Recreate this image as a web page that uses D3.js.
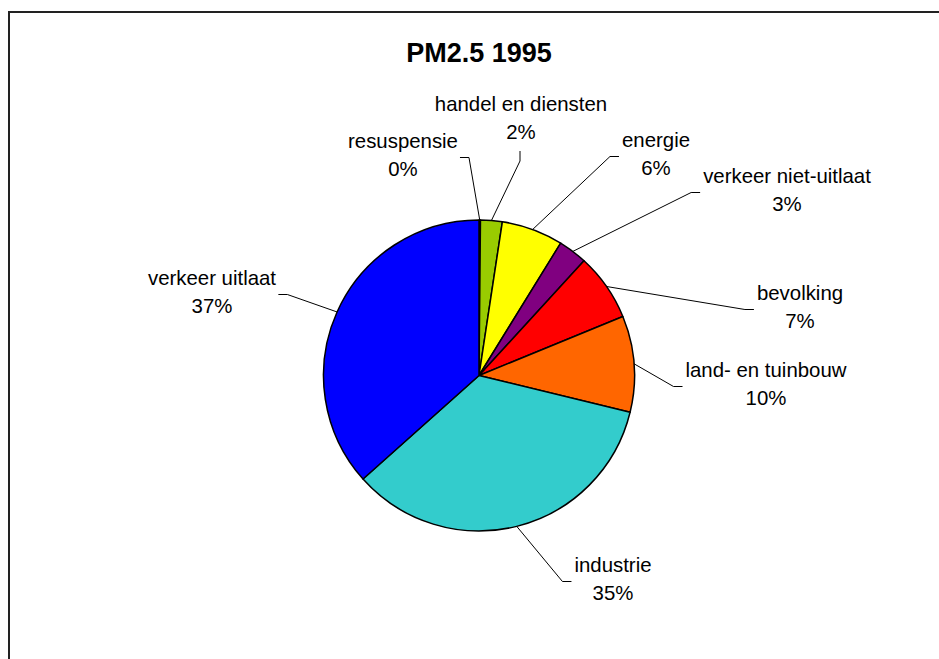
<!DOCTYPE html>
<html>
<head>
<meta charset="utf-8">
<script src="https://cdn.jsdelivr.net/npm/d3@7"></script>
<style>
    body { margin: 0; background: #fff; }
    svg { display: block; }
    text { font-family: "Liberation Sans", Arial, sans-serif; fill: #000; }
</style>
</head>
<body>
<div id="chart"></div>
<script>
// PM2.5 1995 - share per sector (percent)
var categories = ["resuspensie", "handel en diensten", "energie", "verkeer niet-uitlaat",
    "bevolking", "land- en tuinbouw", "industrie", "verkeer uitlaat"];
var values = [0.15, 2.25, 6.4, 3.0, 7.0, 10.0, 34.6, 36.6];
var colors = ["#9999FF", "#99CC00", "#FFFF00", "#800080", "#FF0000", "#FF6600", "#33CCCC", "#0000FF"];

// label placement (text centre x, first baseline y, side where the leader line attaches)
var labelLayout = [
    {x: 403, y: 148, side: "right"},
    {x: 521, y: 111, side: "bottom"},
    {x: 656, y: 147, side: "left"},
    {x: 787, y: 183, side: "left"},
    {x: 800, y: 300, side: "left"},
    {x: 766, y: 377, side: "left"},
    {x: 613, y: 572, side: "left"},
    {x: 212, y: 285, side: "right"}
];

(function () {
    var W = 939, H = 659;
    var cx = 479, cy = 375.5, r = 155.5;
    var lineGap = 28;

    var svg = d3.select("#chart").append("svg")
        .attr("width", W)
        .attr("height", H);

    // chart area frame (runs off the right and bottom edge)
    svg.append("rect")
        .attr("x", 9).attr("y", 12)
        .attr("width", W + 20).attr("height", H + 20)
        .attr("fill", "none")
        .attr("stroke", "#222")
        .attr("stroke-width", 2);

    svg.append("text")
        .attr("x", cx).attr("y", 62)
        .attr("text-anchor", "middle")
        .style("font-size", "27px")
        .style("font-weight", "bold")
        .text("PM2.5 1995");

    var total = d3.sum(values);
    var data = categories.map(function (c, i) {
        return {name: c, value: values[i], color: colors[i], layout: labelLayout[i]};
    });

    var pie = d3.pie().sort(null).value(function (d) { return d.value; });
    var arc = d3.arc().innerRadius(0).outerRadius(r);
    var arcs = pie(data);

    var g = svg.append("g").attr("transform", "translate(" + cx + "," + cy + ")");
    g.selectAll("path.slice").data(arcs).enter().append("path")
        .attr("class", "slice")
        .attr("d", arc)
        .attr("fill", function (d) { return d.data.color; })
        .attr("stroke", "#000")
        .attr("stroke-width", 1.5)
        .attr("stroke-linejoin", "round");

    // labels
    var lblGrp = svg.append("g");
    arcs.forEach(function (a) {
        var L = a.data.layout;
        var t = lblGrp.append("text")
            .attr("text-anchor", "middle")
            .style("font-size", "20.4px");
        t.append("tspan").attr("x", L.x).attr("y", L.y).text(a.data.name);
        t.append("tspan").attr("x", L.x).attr("y", L.y + lineGap)
            .text(Math.round(a.data.value / total * 100) + "%");

        var bb = t.node().getBBox();
        var mid = (a.startAngle + a.endAngle) / 2;
        var p0 = [cx + r * Math.sin(mid), cy - r * Math.cos(mid)];
        var end, elbow;
        var midY = L.y + lineGap / 2 - 4.5;
        if (L.side === "left") {
            end = [bb.x - 3, midY];
            elbow = [end[0] - 9, midY];
        } else if (L.side === "right") {
            end = [bb.x + bb.width + 2, midY];
            elbow = [end[0] + 9, midY];
        } else {
            end = [L.x - 1, L.y + lineGap + 12];
            elbow = [end[0], end[1] + 10];
        }
        lblGrp.append("path")
            .attr("d", d3.line()([p0, elbow, end]))
            .attr("fill", "none")
            .attr("stroke", "#000")
            .attr("stroke-width", 1);
    });
})();
</script>
</body>
</html>
